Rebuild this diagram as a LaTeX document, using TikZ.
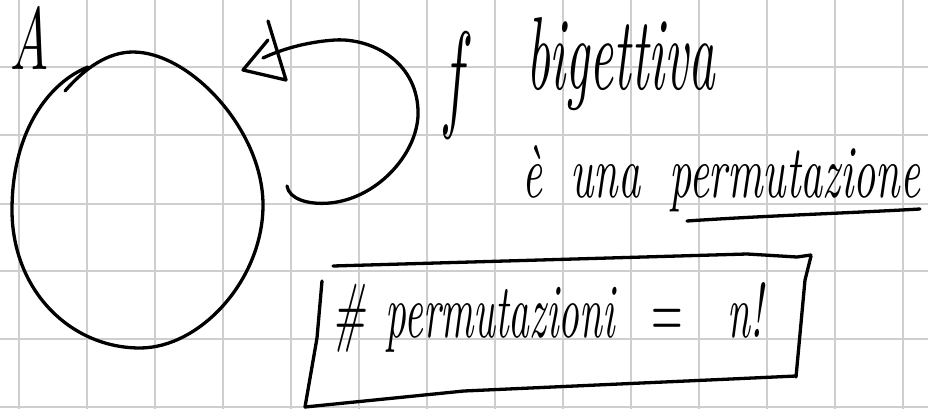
\documentclass[tikz,border=0pt]{standalone}
\usepackage{graphicx}
\definecolor{gridgray}{RGB}{206,206,206}
\tikzset{
  ink/.style={line width=3.3pt, line cap=round, line join=round, draw=black},
  gridline/.style={line width=2pt, draw=gridgray},
  hw/.style={anchor=base west, inner sep=0pt, outer sep=0pt}
}
\newcommand{\hwtext}[3]{\resizebox{#1pt}{#2pt}{\itshape #3}}
\begin{document}
\begin{tikzpicture}[x=1pt,y=-1pt]
\useasboundingbox (0,0) rectangle (928,409);
% grid
\foreach \i in {0,...,13} \draw[gridline] ({19.3+68*\i},0) -- ({19.3+68*\i},409);
\foreach \j in {67,135,203.5,271,339,407} \draw[gridline] (0,\j) -- (928,\j);
% texts
\node[hw] (A) at (9,70) {\hwtext{40}{63}{A}};
\node[hw] (f) at (440,116) {\resizebox{33pt}{83pt}{$f$}};
\node[hw] (bij) at (526,90) {\hwtext{189}{72}{bigettiva}};
\node[hw] (perm) at (522,197) {\hwtext{398}{52}{è\hspace{0.66em}una\hspace{0.66em}permutazione}};
\node[hw] (count) at (332,337) {\hwtext{431}{55}{\#\hspace{0.5em}permutazioni\hspace{0.9em}$=$\hspace{1.1em}n!}};
% set A (oval)
\draw[ink] (65,91) .. controls (85,68) and (108,52) .. (133,52)
  .. controls (190,52) and (263,130) .. (263,205)
  .. controls (263,280) and (200,348) .. (140,348)
  .. controls (70,348) and (12,290) .. (12,210)
  .. controls (12,130) and (50,82) .. (88,67);
% loop arrow
\coordinate (ls) at (287,186);
\coordinate (le) at (263,58);
\draw[ink] (ls) .. controls (289,199) and (308,205) .. (330,203)
  .. controls (380,198) and (420,150) .. (418,110)
  .. controls (416,60) and (370,38) .. (335,40)
  .. controls (305,42) and (280,50) .. (le);
\draw[ink] (268,40) -- (243,70) -- (286,80) -- (268,21);
% underline
\draw[ink] (687,221) .. controls (760,216) and (850,213) .. (920,209);
% box
\draw[ink] (333,266) -- (747,254) -- (797,257) -- (811,255);
\draw[ink] (811,256) -- (805,280) -- (796,377);
\draw[ink] (305,407) -- (464,391) -- (597,385) -- (731,379) -- (796,376);
\draw[ink] (322,281) -- (317,338) -- (305,407);
\end{tikzpicture}
\end{document}
